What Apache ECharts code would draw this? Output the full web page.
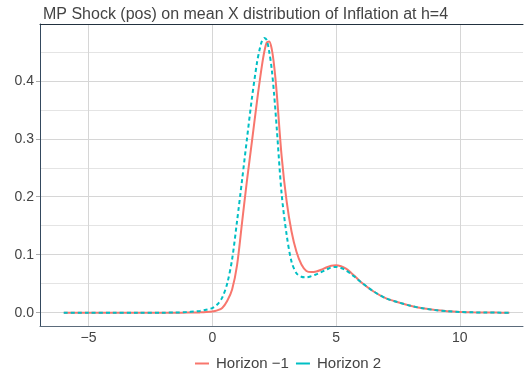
<!DOCTYPE html>
<html>
<head>
<meta charset="utf-8">
<script src="https://cdn.jsdelivr.net/npm/echarts@6/dist/echarts.min.js"></script>
<style>
  html, body { margin: 0; padding: 0; background: #fff; }
  #chart { width: 525px; height: 382px; }
</style>
</head>
<body>
<div id="chart"></div>
<script>
// Density of inflation under the positive MP shock, two horizons
const xValues = [-6, -5, -4, -3, -2, -1.5, -1, -0.75, -0.5, -0.25, 0, 0.2, 0.4, 0.6, 0.8, 1.0, 1.2, 1.4, 1.6, 1.8, 1.9, 2.0, 2.1, 2.2, 2.3, 2.4, 2.5, 2.6, 2.8, 3.0, 3.2, 3.4, 3.6, 3.8, 4.0, 4.2, 4.4, 4.6, 4.8, 5.0, 5.2, 5.4, 5.6, 5.8, 6.0, 6.5, 7.0, 7.5, 8.0, 8.5, 9.0, 9.5, 10, 10.5, 11, 11.5, 12];

const horizonMinus1 = [0, 0, 0, 0, 0, 0, 0.0001, 0.0002, 0.0005, 0.001, 0.002, 0.004, 0.008, 0.020, 0.040, 0.082, 0.155, 0.228, 0.295, 0.363, 0.395, 0.425, 0.450, 0.466, 0.468, 0.455, 0.425, 0.380, 0.270, 0.193, 0.140, 0.105, 0.083, 0.072, 0.070, 0.071, 0.074, 0.078, 0.081, 0.082, 0.080, 0.076, 0.069, 0.061, 0.053, 0.037, 0.025, 0.018, 0.012, 0.0075, 0.0045, 0.0025, 0.0013, 0.0006, 0.0003, 0.0001, 0];

const horizon2 = [0, 0, 0, 0, 0, 0.0003, 0.001, 0.002, 0.003, 0.005, 0.008, 0.014, 0.026, 0.050, 0.092, 0.158, 0.228, 0.300, 0.370, 0.430, 0.452, 0.468, 0.474, 0.470, 0.450, 0.420, 0.375, 0.320, 0.205, 0.135, 0.088, 0.068, 0.062, 0.061, 0.063, 0.066, 0.070, 0.074, 0.078, 0.079, 0.077, 0.073, 0.067, 0.060, 0.053, 0.037, 0.025, 0.018, 0.012, 0.0075, 0.0045, 0.0025, 0.0013, 0.0006, 0.0003, 0.0001, 0];

const seriesNames = ['Horizon \u22121', 'Horizon 2'];
const xTicks = [-5, 0, 5, 10];
const yTicks = [0, 0.1, 0.2, 0.3, 0.4];
const yMinorTicks = [0.05, 0.15, 0.25, 0.35, 0.45];

const pairs = (ys) => xValues.map((x, i) => [x, ys[i]]);
const textColor = '#444444';
const fontFamily = '"Liberation Sans", Arial, sans-serif';

const chart = echarts.init(document.getElementById('chart'), null, { renderer: 'canvas' });
chart.setOption({
  animation: false,
  backgroundColor: '#ffffff',
  title: {
    text: 'MP Shock (pos) on mean X distribution of Inflation at h=4',
    left: 38, top: 2,
    textStyle: { fontFamily, fontSize: 16, fontWeight: 'normal', color: textColor }
  },
  legend: {
    bottom: 6, left: 190,
    itemWidth: 14, itemHeight: 2, itemGap: 7,
    icon: 'rect',
    textStyle: { fontFamily, fontSize: 15, color: textColor, padding: [0, 0, 0, 2] },
    data: [
      { name: seriesNames[0], itemStyle: { color: '#F8766D' } },
      { name: seriesNames[1], itemStyle: { color: '#00BFC4' } }
    ]
  },
  grid: { left: 40, right: 2, top: 24, bottom: 56, containLabel: false },
  xAxis: [{
    type: 'value', min: -6.96, max: 12.55,
    axisLine: { show: true, onZero: false, lineStyle: { color: '#5b6b7b', width: 1 } },
    axisTick: { show: false, customValues: xTicks },
    axisLabel: { customValues: xTicks, color: textColor, fontFamily, fontSize: 14, margin: 5,
      formatter: v => (v < 0 ? '\u2212' + Math.abs(v) : String(v)) },
    splitLine: { show: true, lineStyle: { color: '#d6d6d6', width: 1 } }
  }, {
    type: 'value', position: 'top', min: -6.96, max: 12.55,
    axisLine: { show: true, onZero: false, lineStyle: { color: '#22313f', width: 1 } },
    axisTick: { show: false }, axisLabel: { show: false }, splitLine: { show: false }
  }],
  yAxis: [{
    type: 'value', min: -0.023, max: 0.498,
    axisLine: { show: true, onZero: false, lineStyle: { color: '#34495e', width: 1 } },
    axisTick: { show: true, customValues: yTicks, length: 4, lineStyle: { color: '#aaaaaa' } },
    axisLabel: { customValues: yTicks, color: textColor, fontFamily, fontSize: 14, margin: 6,
      formatter: v => v.toFixed(1) },
    splitLine: { show: true, lineStyle: { color: '#d6d6d6', width: 1 } }
  }, {
    type: 'value', min: -0.023, max: 0.498, position: 'left',
    axisLine: { show: false },
    axisTick: { show: false, customValues: yMinorTicks },
    axisLabel: { show: false, customValues: yMinorTicks },
    splitLine: { show: true, lineStyle: { color: '#e4e4e4', width: 1 } }
  }],
  series: [{
    name: seriesNames[0], type: 'line', data: pairs(horizonMinus1),
    smooth: 0.3, symbol: 'none', z: 3,
    lineStyle: { color: '#F8766D', width: 2 }, itemStyle: { color: '#F8766D' }
  }, {
    name: seriesNames[1], type: 'line', data: pairs(horizon2),
    smooth: 0.3, symbol: 'none', z: 4,
    lineStyle: { color: '#00BFC4', width: 2, type: [4, 3] }, itemStyle: { color: '#00BFC4' }
  }]
});
</script>
</body>
</html>
